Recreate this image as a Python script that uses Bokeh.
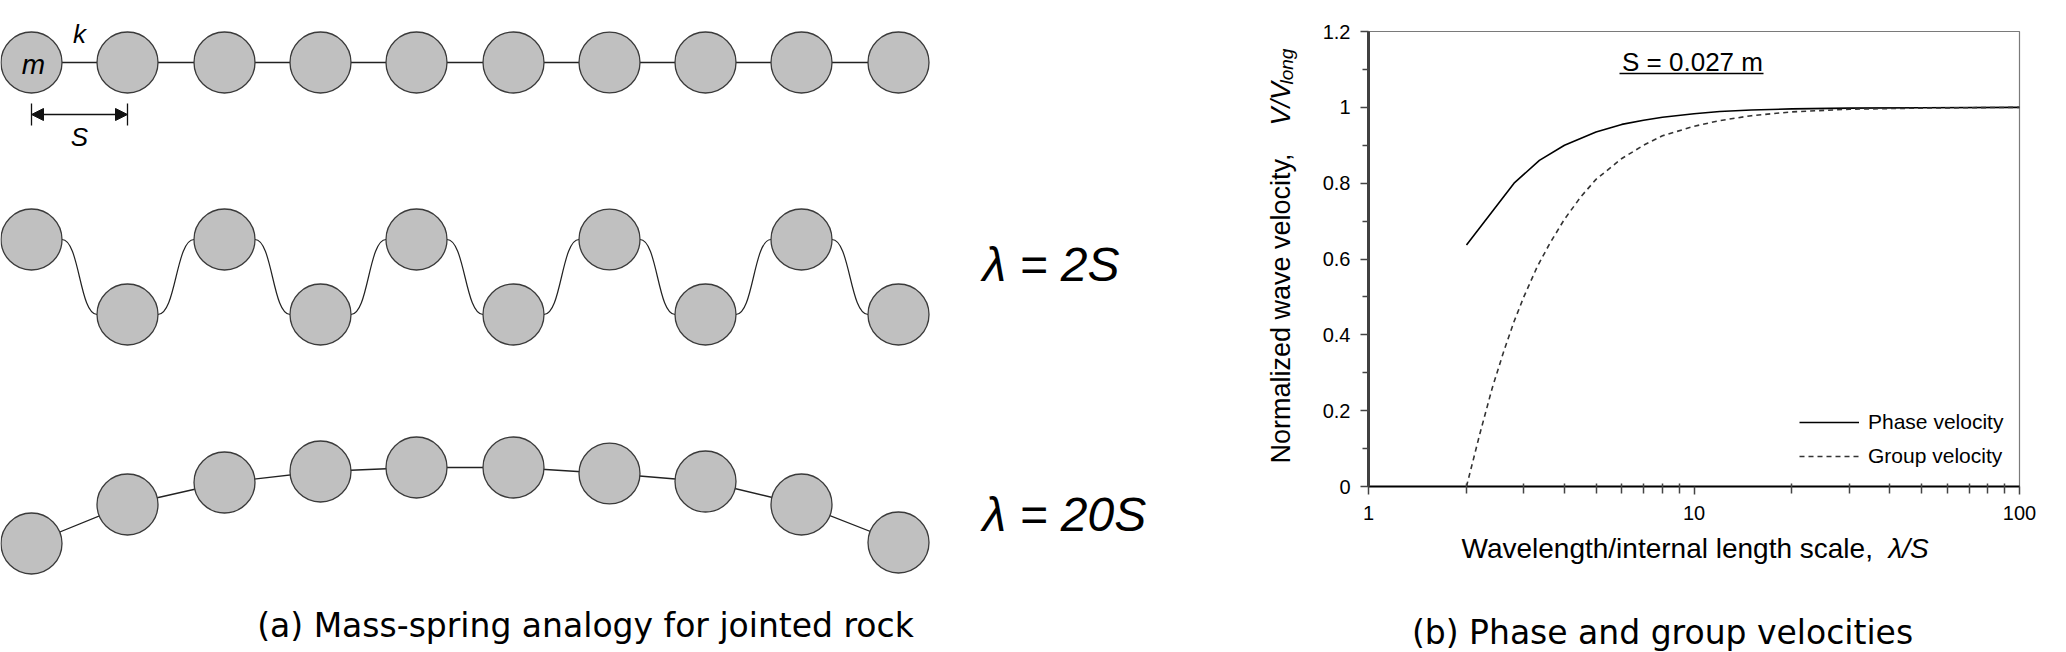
from math import pi
from bokeh.plotting import figure
from bokeh.layouts import row, column
from bokeh.models import (Range1d, Label, Arrow, NormalHead, Legend, LegendItem,
                          FixedTicker, NumeralTickFormatter)
from bokeh.embed import file_html
from bokeh.resources import INLINE

# ---------------- data ----------------
# (a) mass-spring diagram: mass centres, in pixels of the drawing
mass_x = [31, 127, 224, 320, 416, 513, 609, 705, 801, 898]
row_rest_y = [62, 62, 62, 62, 62, 62, 62, 62, 62, 62]
row_2s_y = [239, 314, 239, 314, 239, 314, 239, 314, 239, 314]
row_20s_y = [543, 504, 482, 471, 467, 467, 473, 481, 504, 542]
mass_radius = 30.5

# (b) phase and group velocities
lam_phase = [2.0, 2.8, 3.35, 4, 5, 6, 7, 8, 10, 12, 15, 20, 30, 50, 100]
v_phase = [0.637, 0.80, 0.86, 0.90, 0.935, 0.955, 0.966, 0.974, 0.983, 0.989,
           0.993, 0.996, 0.998, 0.999, 1.0]
lam_group = [2.0, 2.2, 2.4, 2.6, 2.8, 3.0, 3.3, 3.6, 4, 4.5, 5, 6, 7, 8, 10, 12,
             15, 20, 30, 50, 100]
v_group = [0.0, 0.14, 0.26, 0.355, 0.435, 0.50, 0.58, 0.64, 0.705, 0.765, 0.81,
           0.865, 0.90, 0.925, 0.95, 0.965, 0.978, 0.988, 0.995, 0.998, 1.0]
y_ticks = [0, 0.2, 0.4, 0.6, 0.8, 1.0, 1.2]
y_minor = [0.1, 0.3, 0.5, 0.7, 0.9, 1.1]
x_ticks = [1, 10, 100]
x_minor = [2, 3, 4, 5, 6, 7, 8, 9, 20, 30, 40, 50, 60, 70, 80, 90]

FONT = "Liberation Sans"
CAP_FONT = "DejaVu Sans"
FILL = "#c0c0c0"
EDGE = "#3a3a3a"
INK = "black"


def no_align(p):
    if "frame_align" in p.properties():
        p.frame_align = False


def lab(**kw):
    kw.setdefault("text_color", INK)
    kw.setdefault("text_font", FONT)
    kw.setdefault("text_baseline", "middle")
    return Label(**kw)


# ---------------- left: diagram (+ y title of the chart) ----------------
L = figure(width=1300, height=652, frame_width=1300, frame_height=652,
           x_range=Range1d(0, 1300), y_range=Range1d(652, 0),
           x_axis_type=None, y_axis_type=None, output_backend="svg",
           toolbar_location=None, min_border=0)
L.grid.visible = False
L.outline_line_color = None
no_align(L)

L.line(mass_x, row_rest_y, line_color="#222222", line_width=1.3)
L.line(mass_x, row_20s_y, line_color="#222222", line_width=1.3)
x0 = [mass_x[i] + mass_radius for i in range(9)]
x1 = [mass_x[i + 1] - mass_radius for i in range(9)]
xm = [(a + b) / 2 for a, b in zip(x0, x1)]
L.bezier(x0=x0, y0=row_2s_y[:-1], x1=x1, y1=row_2s_y[1:],
         cx0=xm, cy0=row_2s_y[:-1], cx1=xm, cy1=row_2s_y[1:],
         line_color="#222222", line_width=1.2)

for ys in (row_rest_y, row_2s_y, row_20s_y):
    L.circle(x=mass_x, y=ys, radius=mass_radius, fill_color=FILL,
             line_color=EDGE, line_width=1.3)

L.add_layout(lab(x=mass_x[0] + 2, y=row_rest_y[0] + 2, text="m",
                 text_font_size="28px", text_font_style="italic", text_align="center"))
L.add_layout(lab(x=(mass_x[0] + mass_x[1]) / 2, y=33, text="k",
                 text_font_size="26px", text_font_style="italic", text_align="center"))
L.segment(x0=mass_x[:2], y0=[103, 103], x1=mass_x[:2], y1=[125, 125],
          line_color="#111111", line_width=1.3)
L.add_layout(Arrow(start=NormalHead(size=12, fill_color="#111111", line_color="#111111"),
                   end=NormalHead(size=12, fill_color="#111111", line_color="#111111"),
                   x_start=mass_x[0], y_start=114, x_end=mass_x[1], y_end=114,
                   line_color="#111111", line_width=1.5))
L.add_layout(lab(x=(mass_x[0] + mass_x[1]) / 2, y=136, text="S",
                 text_font_size="26px", text_font_style="italic", text_align="center"))
L.add_layout(lab(x=982, y=264, text="λ = 2S", text_font_size="48px",
                 text_font_style="italic", text_align="left"))
L.add_layout(lab(x=982, y=514, text="λ = 20S", text_font_size="48px",
                 text_font_style="italic", text_align="left"))
L.add_layout(lab(x=585, y=625, text="(a) Mass-spring analogy for jointed rock",
                 text_font=CAP_FONT, text_font_size="33px", text_align="center"))
# y title of the chart (mixed styles)
L.add_layout(lab(x=1280, y=463, text="Normalized wave  velocity,",
                 text_font_size="27px", angle=pi / 2, text_align="left"))
L.add_layout(lab(x=1280, y=125, text="V/V", text_font_size="27px",
                 text_font_style="italic", angle=pi / 2, text_align="left"))
L.add_layout(lab(x=1286, y=84, text="long", text_font_size="19px",
                 text_font_style="italic", angle=pi / 2, text_align="left"))

# ---------------- right: velocity chart ----------------
R = figure(width=766, height=530, frame_width=651, frame_height=455,
           x_axis_type="log", x_range=Range1d(1, 100), y_range=Range1d(0, 1.2),
           output_backend="svg", toolbar_location=None,
           min_border_left=68, min_border_right=47, min_border_top=31,
           min_border_bottom=44)
R.grid.visible = False
R.outline_line_color = "#7a7a7a"
R.outline_line_width = 1.2
no_align(R)

r_phase = R.line(lam_phase, v_phase, line_color="black", line_width=1.6)
r_group = R.line(lam_group, v_group, line_color="#333333", line_width=1.6,
                 line_dash="5 4")

R.yaxis.ticker = FixedTicker(ticks=y_ticks, minor_ticks=y_minor)
R.yaxis.formatter = NumeralTickFormatter(format="0.[0]")
R.xaxis.ticker = FixedTicker(ticks=x_ticks, minor_ticks=x_minor)
R.xaxis.formatter = NumeralTickFormatter(format="0")

for ax in (R.xaxis[0], R.yaxis[0]):
    ax.major_label_text_font = FONT
    ax.major_label_text_font_size = "20px"
    ax.major_label_text_color = INK
    ax.major_tick_in = 0
    ax.major_tick_out = 8
    ax.major_tick_line_color = "#444444"
    ax.minor_tick_line_color = "#444444"
    ax.major_tick_line_width = 1.5
    ax.minor_tick_line_width = 1.5

R.yaxis.axis_line_width = 3
R.yaxis.axis_line_color = "#404040"
R.yaxis.minor_tick_in = 0
R.yaxis.minor_tick_out = 6
R.yaxis.major_label_standoff = 10
R.xaxis.axis_line_width = 2
R.xaxis.axis_line_color = "black"
R.xaxis.minor_tick_in = 3
R.xaxis.minor_tick_out = 7
R.xaxis.major_label_standoff = 11

legend = Legend(items=[LegendItem(label="Phase velocity", renderers=[r_phase]),
                       LegendItem(label="Group velocity", renderers=[r_group])],
                location=(431, 18), padding=0, margin=0, spacing=10,
                glyph_width=60, glyph_height=22, label_height=22, label_standoff=9,
                label_text_font=FONT, label_text_font_size="21px",
                label_text_color=INK,
                background_fill_alpha=0, border_line_alpha=0)
R.add_layout(legend)


def xd(px):
    return 10 ** ((px - 1368) / 325.5)


def yd(py):
    return 1.2 - (py - 31) / 379.0


R.add_layout(lab(x=xd(1692), y=yd(61), text="S = 0.027 m",
                 text_font_size="26px", text_align="center"))
R.segment(x0=[xd(1619)], y0=[yd(73)], x1=[xd(1763)], y1=[yd(73)],
          line_color="black", line_width=1.5)

# ---------------- under the chart: x title and caption ----------------
C = figure(width=766, height=122, frame_width=651, frame_height=122,
           x_range=Range1d(1368, 2019), y_range=Range1d(652, 530),
           x_axis_type=None, y_axis_type=None, output_backend="svg",
           toolbar_location=None, min_border_left=68, min_border_right=47,
           min_border_top=0, min_border_bottom=0)
C.grid.visible = False
C.outline_line_color = None
no_align(C)
C.add_layout(lab(x=1461, y=548, text="Wavelength/internal  length scale, ",
                 text_font_size="28px", text_align="left"))
C.add_layout(lab(x=1888, y=548, text="λ/S", text_font_size="28px",
                 text_font_style="italic", text_align="left"))
C.add_layout(lab(x=1662, y=632, text="(b) Phase and group velocities",
                 text_font=CAP_FONT, text_font_size="33px", text_align="center"))

layout = row(L, column(R, C))
open("out.html", "w").write(file_html(layout, INLINE))
